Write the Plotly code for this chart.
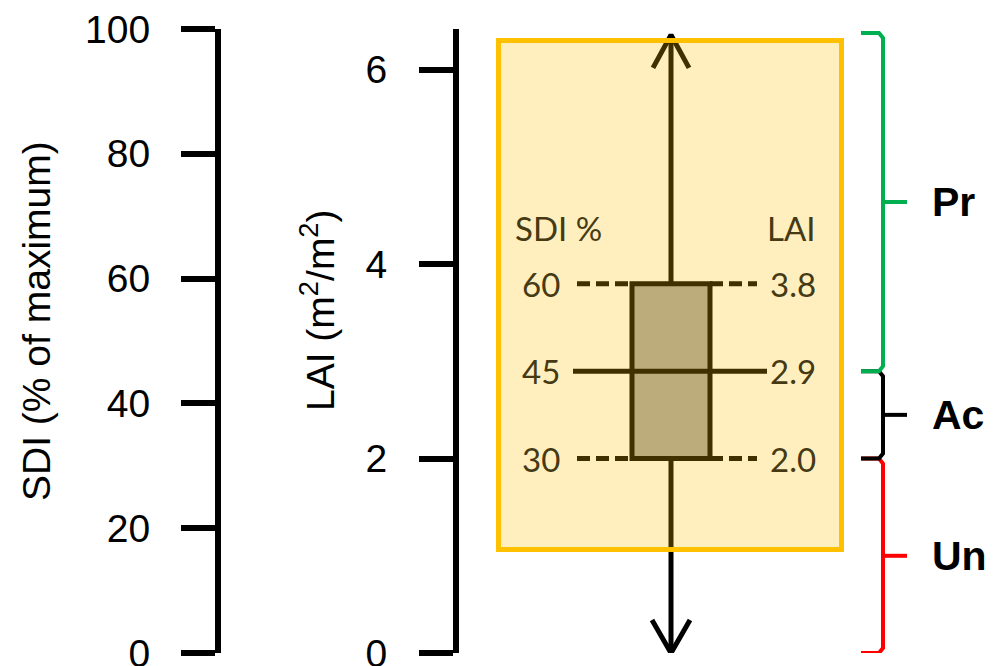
import plotly.graph_objects as go

# ---------------- data ----------------
sdi_ticks = [0, 20, 40, 60, 80, 100]
lai_ticks = [0, 2, 4, 6]
sdi_range = [0, 100]
lai_range = [0, 6.42]

box_lai = [2.0, 2.9, 3.8]            # q1, median, q3 (LAI)
box_lai_labels = ["2.0", "2.9", "3.8"]
box_sdi = [30, 45, 60]               # matching SDI %
box_sdi_labels = ["30", "45", "60"]
arrow_lai = [0.0, 6.36]              # continuum arrow ends (LAI)

class_names = ["Un", "Ac", "Pr"]
class_bounds = [0.0, 2.0, 2.9, 6.38]  # LAI limits of the classes
class_colors = ["#FF0000", "#000000", "#00B050"]

# ---------------- layout constants (pixels) ----------------
W, H = 995, 666
TOP_PX, BOT_PX = 29, 653
dom = [(H - BOT_PX) / H, (H - TOP_PX) / H]
px_per_lai = (BOT_PX - TOP_PX) / (lai_range[1] - lai_range[0])

def py(p):  # pixel offset -> LAI units
    return p / px_per_lai

STEM_X = 671
BOX_L, BOX_R = 632, 710
MED_L, MED_R = 573, 767
DASH_L, DASH_R = 577, 757
LBL_L, LBL_R = 562, 768
PANEL = dict(x0=498.5, x1=841.5, y0_px=549.5, y1_px=40.5)
BR_X, BR_HOOK, BR_TIP = 883, 861, 907
CLS_LBL_X = 930

AX_FONT = dict(family="Arial", size=39, color="#000000")
IN_FONT = dict(family="Lato", size=33, color="#453A14")
INK = "#000000"

fig = go.Figure()

# SDI quartiles on the SDI axis (invisible, keeps the SDI axis alive)
fig.add_trace(go.Scatter(x=[STEM_X] * 3, y=box_sdi, mode="markers",
                         marker=dict(opacity=0, size=1), yaxis="y",
                         hoverinfo="skip", showlegend=False))

# continuum arrow
fig.add_trace(go.Scatter(x=[STEM_X, STEM_X], y=arrow_lai, mode="lines",
                         line=dict(color=INK, width=5), yaxis="y2",
                         cliponaxis=False, hoverinfo="skip", showlegend=False))
top, bot = arrow_lai[1], arrow_lai[0]
fig.add_trace(go.Scatter(
    x=[STEM_X - 18, STEM_X, STEM_X + 18, None, STEM_X - 19, STEM_X, STEM_X + 19],
    y=[top - py(33), top, top - py(33), None, bot + py(33), bot, bot + py(33)],
    mode="lines", line=dict(color=INK, width=5), yaxis="y2",
    cliponaxis=False, hoverinfo="skip", showlegend=False))

# class braces
for i, name in enumerate(class_names):
    lo, hi = class_bounds[i], class_bounds[i + 1]
    mid = (lo + hi) / 2
    fig.add_trace(go.Scatter(
        x=[BR_HOOK, BR_X - 4, BR_X, BR_X, BR_X - 4, BR_HOOK, None, BR_X, BR_TIP],
        y=[hi, hi, hi - py(5), lo + py(5), lo, lo, None, mid, mid],
        mode="lines", line=dict(color=class_colors[i], width=4), yaxis="y2",
        cliponaxis=False, hoverinfo="skip", showlegend=False))

shapes = []
shapes.append(dict(type="rect", xref="x", yref="y2", x0=BOX_L, x1=BOX_R,
                   y0=box_lai[0], y1=box_lai[2], fillcolor="#A6A6A6",
                   line=dict(color=INK, width=5), layer="above"))
shapes.append(dict(type="line", xref="x", yref="y2", x0=MED_L, x1=MED_R,
                   y0=box_lai[1], y1=box_lai[1], line=dict(color=INK, width=5),
                   layer="above"))
for v in (box_lai[0], box_lai[2]):
    shapes.append(dict(type="line", xref="x", yref="y2", x0=DASH_L, x1=BOX_L,
                       y0=v, y1=v, line=dict(color=INK, width=5, dash="13px,6px"),
                       layer="above"))
    shapes.append(dict(type="line", xref="x", yref="y2", x0=BOX_R, x1=DASH_R,
                       y0=v, y1=v, line=dict(color=INK, width=5, dash="13px,6px"),
                       layer="above"))
shapes.append(dict(type="rect", xref="x", yref="paper",
                   x0=PANEL["x0"], x1=PANEL["x1"],
                   y0=(H - PANEL["y0_px"]) / H, y1=(H - PANEL["y1_px"]) / H,
                   fillcolor="rgba(255,192,0,0.25)",
                   line=dict(color="#FFC000", width=5), layer="above"))

ann = []
for v, s_lbl, l_lbl in zip(box_lai, box_sdi_labels, box_lai_labels):
    ann.append(dict(x=LBL_L, y=v, xref="x", yref="y2", text=s_lbl, showarrow=False,
                    xanchor="right", yanchor="middle", font=IN_FONT))
    ann.append(dict(x=LBL_R, y=v, xref="x", yref="y2", text=l_lbl, showarrow=False,
                    xanchor="left", yanchor="middle", font=IN_FONT))
ann.append(dict(x=513, y=(H - 228) / H, xref="x", yref="paper", text="SDI %",
                showarrow=False, xanchor="left", yanchor="middle", font=IN_FONT))
ann.append(dict(x=818, y=(H - 228) / H, xref="x", yref="paper", text="LAI",
                showarrow=False, xanchor="right", yanchor="middle", font=IN_FONT))

for i, name in enumerate(class_names):
    mid = (class_bounds[i] + class_bounds[i + 1]) / 2
    ann.append(dict(x=CLS_LBL_X, y=mid, xref="x", yref="y2", text=f"<b>{name}</b>",
                    showarrow=False, xanchor="left", yanchor="middle",
                    font=dict(family="Arial", size=41, color="#000000")))

ann.append(dict(x=36 / W, y=(H - 321) / H, xref="paper", yref="paper",
                text="SDI (% of maximum)", textangle=-90, showarrow=False,
                xanchor="center", yanchor="middle", font=AX_FONT))
ann.append(dict(x=318 / W, y=(H - 310) / H, xref="paper", yref="paper",
                text="LAI (m<sup>2</sup>/m<sup>2</sup>)", textangle=-90, showarrow=False,
                xanchor="center", yanchor="middle", font=AX_FONT))

axis_common = dict(showgrid=False, zeroline=False, showline=True, linecolor=INK,
                   linewidth=6, ticks="outside", ticklen=34, tickwidth=6,
                   tickcolor=INK, tickfont=AX_FONT, fixedrange=True,
                   automargin=False, ticklabeloverflow="allow")

fig.update_layout(
    width=W, height=H,
    margin=dict(l=0, r=0, t=0, b=0, pad=0, autoexpand=False),
    paper_bgcolor="white", plot_bgcolor="white", showlegend=False,
    xaxis=dict(range=[0, W], domain=[0, 1], visible=False, fixedrange=True,
               automargin=False),
    yaxis=dict(range=sdi_range, domain=dom, anchor="free", position=218 / W,
               tickvals=sdi_ticks, ticklabelstandoff=23, **axis_common),
    yaxis2=dict(range=lai_range, domain=dom, overlaying="y", anchor="free",
                position=456 / W, tickvals=lai_ticks, ticklabelstandoff=24,
                **axis_common),
    shapes=shapes, annotations=ann,
)

fig.write_html("out.html", config=dict(displayModeBar=False, staticPlot=True),
               post_script="document.body.style.margin='0';"
                           "document.body.style.overflow='hidden';")
